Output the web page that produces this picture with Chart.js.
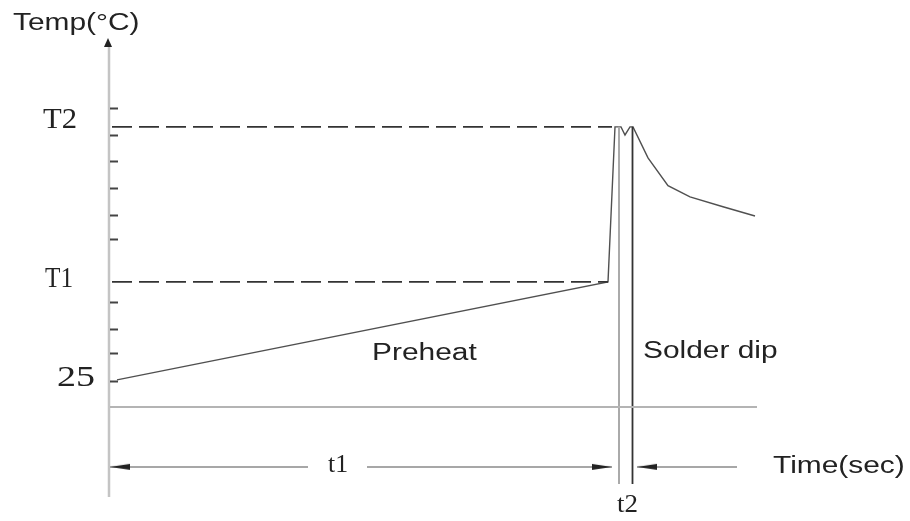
<!DOCTYPE html>
<html>
<head>
<meta charset="utf-8">
<script src="https://cdn.jsdelivr.net/npm/chart.js@4.4.0/dist/chart.umd.min.js"></script>
<style>
  html, body { margin: 0; padding: 0; background: #fff; }
  canvas { display: block; }
</style>
</head>
<body>
<canvas id="myChart" width="910" height="521"></canvas>
<script>
// profile (time in arbitrary units, temperature in arbitrary diagram levels, 0 = time axis)
const profileTime = [1.4, 99.6, 101, 102.2, 103, 104, 104.6, 107.6, 111.6, 116, 122.6, 129]
const profileTemp = [1.0, 4.63, 10.37, 10.37, 10.07, 10.37, 10.37, 9.22, 8.19, 7.78, 7.41, 7.07]

// y axis labels and tick marks
const levelLabels = ['25', 'T1', 'T2']
const levelValues = [1.0, 4.63, 10.37]
const tickLevels = [0.96, 2, 2.9, 3.9, 6.2, 7.1, 8.1, 9.1, 10.05, 11.05]

// time marks
const t1Start = 0
const t1End = 100.4
const t1Gap = [39.6, 51.4]
const dipLines = [101.8, 104.5]
const t2ArrowFrom = 105.4
const t2ArrowTo = 125.4
const dashEnds = [99.6, 100.4]   // end of T1 and T2 dashed lines
const timeAxisEnd = 129.4
const arrowLevel = -2.22
const dipLineBottom = -2.85

const pts = (xs, ys) => xs.map((x, i) => ({ x: x, y: ys[i] }))

// narrow arrow head, tip at the centre, pointing right
const makeArrow = (len, half, color) => {
    const c = document.createElement('canvas')
    c.width = len * 2
    c.height = half * 2 + 2
    const g = c.getContext('2d')
    g.fillStyle = color
    g.beginPath()
    g.moveTo(len, half + 1)
    g.lineTo(0, 1)
    g.lineTo(0, half * 2 + 1)
    g.closePath()
    g.fill()
    return c
}
const arrow = makeArrow(20, 3, '#222')

const sans = '"Liberation Sans", Arial, sans-serif'
const serif = '"Liberation Serif", "Times New Roman", serif'

// text drawn a bit wider than normal, like the original figure
const stretchText = (ctx, text, x, y, font, sx, baseline) => {
    ctx.save()
    ctx.font = font
    ctx.fillStyle = '#222'
    ctx.textAlign = 'left'
    ctx.textBaseline = baseline || 'alphabetic'
    ctx.translate(x, y)
    ctx.scale(sx, 1)
    ctx.fillText(text, 0, 0)
    ctx.restore()
}
const fitText = (ctx, text, left, right, y, font, baseline) => {
    ctx.save()
    ctx.font = font
    const w = ctx.measureText(text).width
    ctx.restore()
    stretchText(ctx, text, left, y, font, (right - left) / w, baseline)
}

const diagram = {
    id: 'diagram',
    beforeDatasetsDraw(chart) {
        const ctx = chart.ctx
        const xs = chart.scales.x
        const ys = chart.scales.y
        const ax = xs.getPixelForValue(0)
        const top = chart.chartArea.top
        const bottom = chart.chartArea.bottom

        // y axis line and arrow
        ctx.save()
        ctx.strokeStyle = '#c4c4c4'
        ctx.lineWidth = 2.5
        ctx.beginPath()
        ctx.moveTo(ax - 1, top + 2)
        ctx.lineTo(ax - 1, bottom + 2)
        ctx.stroke()
        ctx.fillStyle = '#222'
        ctx.beginPath()
        ctx.moveTo(ax - 2, top - 7)
        ctx.lineTo(ax - 6, top + 2)
        ctx.lineTo(ax + 2, top + 2)
        ctx.closePath()
        ctx.fill()

        // small inward ticks
        ctx.strokeStyle = '#444'
        ctx.lineWidth = 2
        for (const v of tickLevels) {
            const py = Math.round(ys.getPixelForValue(v)) + 0.5
            ctx.beginPath()
            ctx.moveTo(ax, py)
            ctx.lineTo(ax + 8, py)
            ctx.stroke()
        }
        ctx.restore()
    },
    afterDatasetsDraw(chart) {
        const ctx = chart.ctx
        const xs = chart.scales.x
        const ys = chart.scales.y

        stretchText(ctx, 'Temp(°C)', 13, 24, '23px ' + sans, 1.3, 'middle')
        stretchText(ctx, 'Time(sec)', 773, ys.getPixelForValue(arrowLevel), '23px ' + sans, 1.3, 'middle')
        stretchText(ctx, 'Preheat', 372, 360, '23px ' + sans, 1.3)
        stretchText(ctx, 'Solder dip', 643, 358, '23px ' + sans, 1.3)

        // level labels
        const lx = [[57, 95], [45, 73], [43, 77]]
        const dy = [-2, -3, -7]
        levelLabels.forEach((t, i) => {
            const py = ys.getPixelForValue(levelValues[i]) + dy[i]
            fitText(ctx, t, lx[i][0], lx[i][1], py, '30px ' + serif, 'middle')
        })

        fitText(ctx, 't1', 328, 348, 472, '26px ' + serif)
        fitText(ctx, 't2', 617, 638, 512, '26px ' + serif)
    }
}

const ctx = document.getElementById('myChart').getContext('2d')
const myChart = new Chart(ctx, {
    type: 'line',
    data: {
        datasets: [
            {
                label: 'T2',
                data: [{ x: 0.4, y: levelValues[2] }, { x: dashEnds[1], y: levelValues[2] }],
                borderColor: '#333',
                borderWidth: 1.6,
                borderDash: [20, 7],
                pointRadius: 0
            },
            {
                label: 'T1',
                data: [{ x: 0.4, y: levelValues[1] }, { x: dashEnds[0], y: levelValues[1] }],
                borderColor: '#333',
                borderWidth: 1.6,
                borderDash: [20, 7],
                pointRadius: 0
            },
            {
                label: 'time axis',
                data: [{ x: 0, y: 0 }, { x: timeAxisEnd, y: 0 }],
                borderColor: '#b4b4b4',
                borderWidth: 2,
                pointRadius: 0
            },
            {
                label: 'dip start',
                data: [{ x: dipLines[0], y: levelValues[2] }, { x: dipLines[0], y: dipLineBottom }],
                borderColor: '#aaa',
                borderWidth: 2,
                pointRadius: 0
            },
            {
                label: 'dip end',
                data: [{ x: dipLines[1], y: levelValues[2] }, { x: dipLines[1], y: dipLineBottom }],
                borderColor: '#333',
                borderWidth: 1.8,
                pointRadius: 0
            },
            {
                label: 't1 left',
                data: [{ x: t1Start, y: arrowLevel }, { x: t1Gap[0], y: arrowLevel }],
                borderColor: '#8a8a8a',
                borderWidth: 1.5,
                pointStyle: arrow,
                pointRadius: [4, 0],
                pointRotation: [180, 0]
            },
            {
                label: 't1 right',
                data: [{ x: t1Gap[1], y: arrowLevel }, { x: t1End, y: arrowLevel }],
                borderColor: '#8a8a8a',
                borderWidth: 1.5,
                pointStyle: arrow,
                pointRadius: [0, 4],
                pointRotation: [0, 0]
            },
            {
                label: 't2 arrow',
                data: [{ x: t2ArrowFrom, y: arrowLevel }, { x: t2ArrowTo, y: arrowLevel }],
                borderColor: '#8a8a8a',
                borderWidth: 1.5,
                pointStyle: arrow,
                pointRadius: [4, 0],
                pointRotation: [180, 0]
            },
            {
                label: 'profile',
                data: pts(profileTime, profileTemp),
                borderColor: '#505050',
                borderWidth: 1.4,
                pointRadius: 0,
                tension: 0
            }
        ]
    },
    options: {
        responsive: false,
        animation: false,
        devicePixelRatio: 1,
        layout: { padding: { left: 110, right: 153, top: 45, bottom: 26 } },
        plugins: { legend: { display: false }, tooltip: { enabled: false } },
        scales: {
            x: { type: 'linear', display: false, min: 0, max: timeAxisEnd },
            y: { type: 'linear', display: false, min: -3.26, max: 13.4 }
        }
    },
    plugins: [diagram]
})
</script>
</body>
</html>
